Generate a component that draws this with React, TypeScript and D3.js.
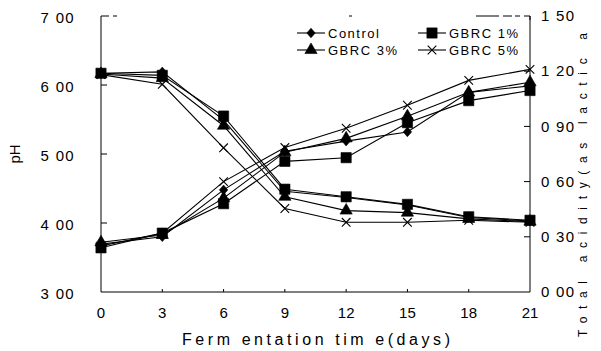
import React from "react";
import * as d3 from "d3";

// fermentation days
const days = [0, 3, 6, 9, 12, 15, 18, 21];

// pH (left axis)
const phControl = [6.17, 6.19, 5.49, 4.46, 4.37, 4.26, 4.08, 4.03];
const phGbrc1 = [6.17, 6.14, 5.55, 4.49, 4.38, 4.27, 4.09, 4.04];
const phGbrc3 = [6.16, 6.1, 5.41, 4.38, 4.18, 4.15, 4.06, 4.02];
const phGbrc5 = [6.15, 6.01, 5.09, 4.21, 4.01, 4.01, 4.04, 4.01];

// total acidity (right axis)
const acControl = [0.26, 0.3, 0.555, 0.765, 0.82, 0.87, 1.085, 1.12];
const acGbrc1 = [0.24, 0.32, 0.48, 0.71, 0.73, 0.92, 1.04, 1.095];
const acGbrc3 = [0.27, 0.31, 0.51, 0.76, 0.835, 0.955, 1.085, 1.14];
const acGbrc5 = [0.25, 0.32, 0.6, 0.785, 0.89, 1.015, 1.15, 1.21];

const seriesNames = ["Control", "GBRC 1%", "GBRC 3%", "GBRC 5%"];
const leftTicks = [3, 4, 5, 6, 7];
const leftTickLabels = ["3 00", "4 00", "5 00", "6 00", "7 00"];
const rightTicks = [0, 0.3, 0.6, 0.9, 1.2, 1.5];
const rightTickLabels = ["0 00", "0 30", "0 60", "0 90", "1 20", "1 50"];

const W = 601;
const H = 351;
const margin = { top: 16, right: 71, bottom: 59, left: 101 };
const FONT = "'Liberation Sans', Arial, Helvetica, sans-serif";

// diamond a little less pointy than d3's
const diamond = {
  draw(ctx: any, size: number) {
    const r = Math.sqrt(size) / 2;
    const h = r * 1.15;
    ctx.moveTo(0, -h);
    ctx.lineTo(r, 0);
    ctx.lineTo(0, h);
    ctx.lineTo(-r, 0);
    ctx.closePath();
  },
};

const markers = [
  { type: diamond, size: 70, filled: true },
  { type: d3.symbolSquare, size: 105, filled: true },
  { type: d3.symbolTriangle, size: 65, filled: true },
  { type: d3.symbolTimes, size: 50, filled: false },
];

function Marker({ idx, x, y }: { idx: number; x: number; y: number }) {
  const m = markers[idx];
  const d = d3.symbol().type(m.type as any).size(m.size)() || "";
  return (
    <path
      d={d}
      transform={`translate(${x},${y})`}
      fill={m.filled ? "#000" : "none"}
      stroke="#000"
      strokeWidth={m.filled ? 0.6 : 1.1}
    />
  );
}

export default function App() {
  const x = d3
    .scaleLinear()
    .domain([0, 21])
    .range([margin.left, W - margin.right]);
  const yL = d3
    .scaleLinear()
    .domain([3, 7])
    .range([H - margin.bottom, margin.top]);
  const yR = d3
    .scaleLinear()
    .domain([0, 1.5])
    .range([H - margin.bottom, margin.top]);

  const phSeries = [phControl, phGbrc1, phGbrc3, phGbrc5];
  const acSeries = [acControl, acGbrc1, acGbrc3, acGbrc5];

  const lineL = d3
    .line<number>()
    .x((_, i) => x(days[i]))
    .y((d) => yL(d));
  const lineR = d3
    .line<number>()
    .x((_, i) => x(days[i]))
    .y((d) => yR(d));

  const x0 = x(0);
  const x1 = x(21);
  const yTop = margin.top;
  const yBot = H - margin.bottom;

  // broken top border as in the scan
  const topDashes = [
    [x0, x0 + 8],
    [x0 + 12, x0 + 16],
    [349, 352],
    [476, 499],
    [503, 512],
    [515, 520],
    [524, x1],
  ];

  const legend = [
    { lx: 297, ly: 33 },
    { lx: 418, ly: 33 },
    { lx: 297, ly: 50 },
    { lx: 418, ly: 50 },
  ];

  return (
    <div style={{ position: "absolute", left: 0, top: 0 }}>
      <svg width={W} height={H} style={{ display: "block", background: "#fff" }} fontFamily={FONT}>
        <rect width={W} height={H} fill="#fff" />

        {/* axes frame */}
        <line x1={x0} x2={x0} y1={yTop} y2={yBot} stroke="#000" strokeWidth={1} />
        <line x1={x1} x2={x1} y1={yTop} y2={yBot} stroke="#000" strokeWidth={1} />
        <line x1={x0} x2={x1} y1={yBot} y2={yBot} stroke="#000" strokeWidth={1} />
        {topDashes.map(([a, b], i) => (
          <line key={i} x1={a} x2={b} y1={yTop} y2={yTop} stroke="#000" strokeWidth={1} />
        ))}
        <line x1={x1} x2={x1} y1={yTop} y2={yTop + 4} stroke="#000" />

        {/* left ticks */}
        {leftTicks.map((t, i) => (
          <g key={t}>
            {t > 3 && t < 7 && (
              <line x1={x0} x2={x0 + 6} y1={yL(t)} y2={yL(t)} stroke="#000" />
            )}
            <text
              x={x0 - 26}
              y={yL(t) + 2}
              dy="0.35em"
              textAnchor="end"
              fontSize={15}
              letterSpacing={1.3}
            >
              {leftTickLabels[i]}
            </text>
          </g>
        ))}

        {/* right ticks */}
        {rightTicks.map((t, i) => (
          <g key={t}>
            {t > 0 && t < 1.5 && (
              <line x1={x1 - 6} x2={x1} y1={yR(t)} y2={yR(t)} stroke="#000" />
            )}
            <text
              x={x1 + 11}
              y={yR(t)}
              dy="0.35em"
              textAnchor="start"
              fontSize={15}
              letterSpacing={1.3}
            >
              {rightTickLabels[i]}
            </text>
          </g>
        ))}

        {/* bottom ticks */}
        {days.map((d) => (
          <g key={d}>
            {d > 0 && d < 21 && (
              <line x1={x(d)} x2={x(d)} y1={yBot} y2={yBot - 3} stroke="#000" />
            )}
            <text x={x(d)} y={318} textAnchor="middle" fontSize={15}>
              {d}
            </text>
          </g>
        ))}

        {/* axis titles */}
        <text
          x={182}
          y={345}
          fontSize={16}
          textLength={268}
          lengthAdjust="spacing"
        >
          Ferm entation tim e(days)
        </text>
        <text transform="translate(20,154) rotate(-90)" textAnchor="middle" fontSize={15}>
          pH
        </text>
        <text
          transform="translate(587,337) rotate(-90)"
          fontSize={12}
          textLength={304}
          lengthAdjust="spacing"
        >
          Total acidity(as lactic a
        </text>

        {/* pH lines */}
        {phSeries.map((s, k) => (
          <g key={"ph" + k}>
            <path d={lineL(s) || ""} fill="none" stroke="#000" strokeWidth={1.1} />
            {s.map((v, i) => (
              <Marker key={i} idx={k} x={x(days[i])} y={yL(v)} />
            ))}
          </g>
        ))}

        {/* acidity lines */}
        {acSeries.map((s, k) => (
          <g key={"ac" + k}>
            <path d={lineR(s) || ""} fill="none" stroke="#000" strokeWidth={1.1} />
            {s.map((v, i) => (
              <Marker key={i} idx={k} x={x(days[i])} y={yR(v)} />
            ))}
          </g>
        ))}

        {/* legend */}
        {seriesNames.map((name, k) => {
          const { lx, ly } = legend[k];
          return (
            <g key={name}>
              <line x1={lx} x2={lx + 28} y1={ly} y2={ly} stroke="#000" strokeWidth={1.1} />
              <Marker idx={k} x={lx + 14} y={ly} />
              <text x={lx + 31} y={ly} dy="0.35em" fontSize={13} letterSpacing={1.5}>
                {name}
              </text>
            </g>
          );
        })}
      </svg>
    </div>
  );
}
